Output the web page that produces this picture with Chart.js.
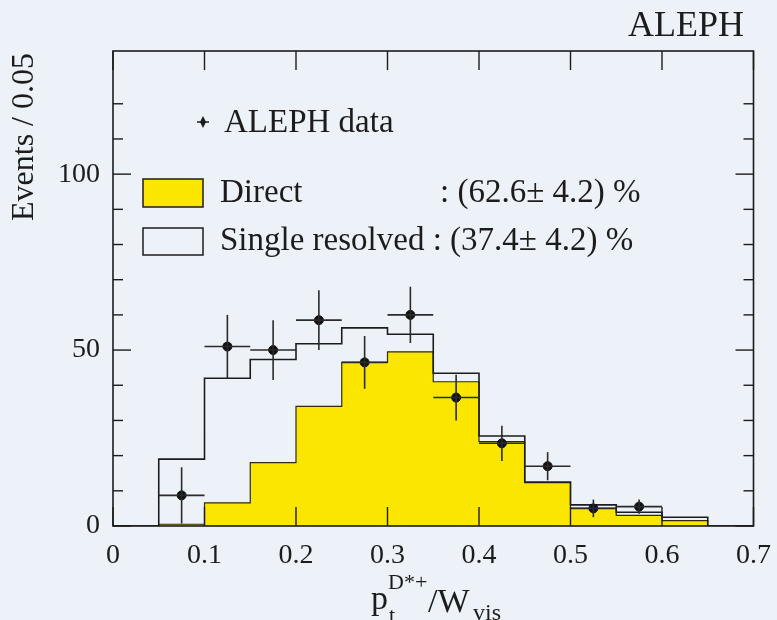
<!DOCTYPE html>
<html>
<head>
<meta charset="utf-8">
<title>ALEPH D*+ pt / Wvis</title>
<script src="https://cdn.jsdelivr.net/npm/chart.js@4.4.1/dist/chart.umd.min.js"></script>
<style>
  html, body { margin: 0; padding: 0; background: #edf2f8; }
  canvas { display: block; }
</style>
</head>
<body>
<canvas id="chart" width="777" height="620"></canvas>
<script>
/******************************************************************************
 * data
 *****************************************************************************/
// histogram bin edges in pt(D*+)/Wvis, bins of 0.05
const binEdges = [0, 0.05, 0.1, 0.15, 0.2, 0.25, 0.3, 0.35, 0.4, 0.45, 0.5, 0.55, 0.6, 0.65, 0.7];
// events per bin, direct component (yellow)
const directEvents = [0, 0.5, 6.6, 18, 34, 46.5, 49.5, 41, 24, 12.3, 5, 3, 1.5, 0];
// events per bin, single resolved component (stacked on top of direct)
const resolvedEvents = [0, 18.5, 35.4, 29.3, 17.8, 9.8, 5, 2.4, 1.6, 0.2, 1, 0.9, 1, 0];

// ALEPH data points: bin centres, values, vertical errors
const dataX = [0.075, 0.125, 0.175, 0.225, 0.275, 0.325, 0.375, 0.425, 0.475, 0.525, 0.575];
const dataY = [8.7, 51, 50, 58.5, 46.5, 60, 36.5, 23.5, 17, 5, 5.5];
const dataErr = [8, 9, 8.5, 8.5, 7.5, 8, 6.5, 5, 4, 2.5, 2];
const binHalf = 0.025;

// axes
const xTickStep = 0.1;
const yTickStep = 10;
const yLabelEvery = 50;
const xMax = 0.7;
const yMax = 135;

// texts
const yTitle = 'Events / 0.05';
const expLabel = 'ALEPH';
const dataLabel = 'ALEPH data';
const directLabel = 'Direct';
const directFrac = ': (62.6\u00b1 4.2) %';
const resolvedLabel = 'Single resolved : (37.4\u00b1 4.2) %';

/******************************************************************************
 * styling
 *****************************************************************************/
const bg = '#edf2f8';
const ink = '#1c1c1c';
const yellow = '#fae600';
const serif = '"Liberation Serif", "DejaVu Serif", serif';

/******************************************************************************
 * build step series for the library
 *****************************************************************************/
const totalEvents = directEvents.map((d, i) => d + resolvedEvents[i]);

function steps(values) {
  const pts = values.map((v, i) => ({ x: binEdges[i], y: v }));
  pts.push({ x: binEdges[binEdges.length - 1], y: values[values.length - 1] });
  return pts;
}

const points = dataX.map((x, i) => ({ x: x, y: dataY[i] }));

/******************************************************************************
 * extra drawing: background, frame ticks, error bars, legend, titles
 *****************************************************************************/
function line(ctx, x1, y1, x2, y2) {
  ctx.beginPath();
  ctx.moveTo(x1, y1);
  ctx.lineTo(x2, y2);
  ctx.stroke();
}

const decorations = {
  id: 'decorations',
  beforeDraw(chart) {
    const { ctx, width, height } = chart;
    ctx.save();
    ctx.fillStyle = bg;
    ctx.fillRect(0, 0, width, height);
    ctx.restore();
  },
  afterDatasetsDraw(chart) {
    const { ctx, scales: { x, y } } = chart;
    ctx.save();
    ctx.strokeStyle = '#2a2a2a';
    ctx.lineWidth = 1.6;
    dataX.forEach((cx, i) => {
      const px = x.getPixelForValue(cx);
      const py = y.getPixelForValue(dataY[i]);
      line(ctx, x.getPixelForValue(cx - binHalf), py, x.getPixelForValue(cx + binHalf), py);
      line(ctx, px, y.getPixelForValue(Math.max(0, dataY[i] - dataErr[i])),
                px, y.getPixelForValue(dataY[i] + dataErr[i]));
    });
    ctx.restore();
  },
  afterDraw(chart) {
    const { ctx, chartArea: a, scales: { x, y } } = chart;
    ctx.save();

    // frame
    ctx.strokeStyle = ink;
    ctx.lineWidth = 1.6;
    ctx.strokeRect(a.left, a.top, a.right - a.left, a.bottom - a.top);

    // inward ticks on all four sides
    ctx.lineWidth = 1.4;
    x.ticks.forEach(t => {
      const px = x.getPixelForValue(t.value);
      line(ctx, px, a.bottom, px, a.bottom - 19);
      line(ctx, px, a.top, px, a.top + 19);
    });
    y.ticks.filter(t => t.value % yTickStep === 0).forEach(t => {
      const py = y.getPixelForValue(t.value);
      const len = t.value % yLabelEvery === 0 ? 18 : 10;
      line(ctx, a.left, py, a.left + len, py);
      line(ctx, a.right, py, a.right - len, py);
    });

    // experiment label
    ctx.fillStyle = ink;
    ctx.textBaseline = 'alphabetic';
    ctx.textAlign = 'right';
    ctx.font = '36px ' + serif;
    ctx.fillText(expLabel, 744, 36);

    // legend
    ctx.textAlign = 'left';
    ctx.font = '33px ' + serif;
    ctx.beginPath();
    ctx.moveTo(203, 116);
    ctx.lineTo(206, 122);
    ctx.lineTo(203, 128);
    ctx.lineTo(200, 122);
    ctx.closePath();
    ctx.fill();
    ctx.lineWidth = 1.5;
    line(ctx, 197, 122, 209, 122);
    ctx.fillText(dataLabel, 224, 132);

    ctx.fillStyle = yellow;
    ctx.fillRect(143, 179, 60, 28);
    ctx.strokeStyle = ink;
    ctx.lineWidth = 1.5;
    ctx.strokeRect(143, 179, 60, 28);
    ctx.fillStyle = ink;
    ctx.fillText(directLabel, 220, 202);
    ctx.fillText(directFrac, 440, 202);

    ctx.strokeRect(143, 228, 60, 27);
    ctx.fillText(resolvedLabel, 220, 250);

    // x-axis title: p_t^{D*+}/W_vis
    ctx.font = '34px ' + serif;
    ctx.fillText('p', 371, 609);
    ctx.font = '22px ' + serif;
    ctx.fillText('t', 389, 622);
    ctx.fillText('D*+', 388, 589);
    ctx.font = '34px ' + serif;
    ctx.fillText('/W', 428, 612);
    ctx.font = '24px ' + serif;
    ctx.fillText('vis', 473, 620);

    // y-axis title
    ctx.translate(25, 137);
    ctx.rotate(-Math.PI / 2);
    ctx.textAlign = 'center';
    ctx.textBaseline = 'middle';
    ctx.font = '32px ' + serif;
    ctx.fillText(yTitle, 0, 0);

    ctx.restore();
  }
};

/******************************************************************************
 * chart
 *****************************************************************************/
new Chart(document.getElementById('chart'), {
  type: 'scatter',
  data: {
    datasets: [
      {
        label: dataLabel,
        data: points,
        pointStyle: 'circle',
        pointRadius: 4.5,
        pointBackgroundColor: '#111',
        pointBorderColor: '#111',
        order: 0
      },
      {
        label: 'Single resolved',
        data: steps(totalEvents),
        showLine: true,
        stepped: 'before',
        borderColor: ink,
        borderWidth: 1.6,
        pointRadius: 0,
        fill: false,
        order: 1
      },
      {
        label: 'Direct',
        data: steps(directEvents),
        showLine: true,
        stepped: 'before',
        borderColor: '#2f2a10',
        borderWidth: 1.2,
        backgroundColor: yellow,
        fill: 'origin',
        pointRadius: 0,
        order: 2
      }
    ]
  },
  options: {
    responsive: false,
    animation: false,
    devicePixelRatio: 1,
    layout: { padding: { top: 51, right: 23, left: 0, bottom: 0 } },
    plugins: {
      legend: { display: false },
      tooltip: { enabled: false }
    },
    scales: {
      x: {
        type: 'linear',
        min: 0,
        max: xMax,
        grid: { display: false, drawTicks: false },
        border: { display: false },
        ticks: {
          stepSize: xTickStep,
          padding: 6,
          color: ink,
          font: { family: serif, size: 28, lineHeight: 1.7 },
          maxRotation: 0,
          autoSkip: false,
          callback: v => (v === 0 ? '0' : v.toFixed(1))
        },
        afterFit: s => { s.height = 94; }
      },
      y: {
        min: 0,
        max: yMax,
        grid: { display: false, drawTicks: false },
        border: { display: false },
        ticks: {
          stepSize: yTickStep,
          padding: 13,
          color: ink,
          font: { family: serif, size: 28 },
          autoSkip: false,
          callback: v => (v % yLabelEvery === 0 ? String(v) : '')
        },
        afterFit: s => { s.width = 113; }
      }
    }
  },
  plugins: [decorations]
});
</script>
</body>
</html>
